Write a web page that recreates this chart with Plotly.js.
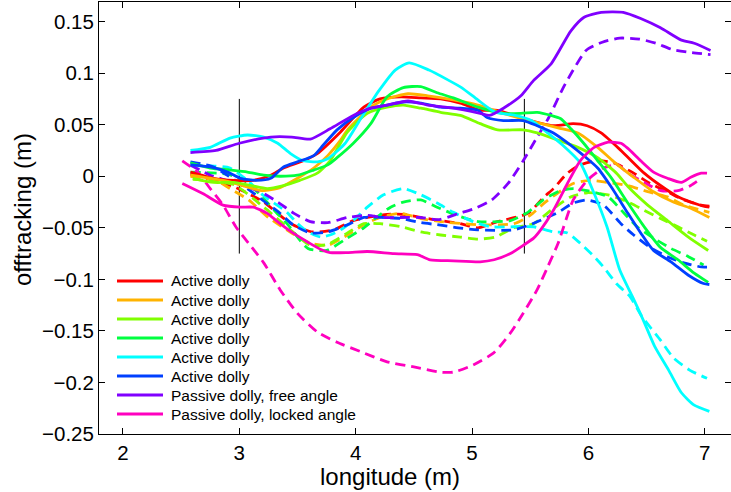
<!DOCTYPE html>
<html>
<head>
<meta charset="utf-8">
<script src="https://cdn.plot.ly/plotly-3.0.1.min.js"></script>
<style>html,body{margin:0;padding:0;background:#fff;}#chart{width:731px;height:492px;}</style>
</head>
<body>
<div id="chart"></div>
<script>
// ---- data (longitude in m, offtracking in m) ----
const seriesNames = ["Active dolly","Active dolly","Active dolly","Active dolly","Active dolly","Active dolly","Passive dolly, free angle","Passive dolly, locked angle"];
const seriesColors = ["#ff0000","#ffb300","#80ff00","#00ff40","#00ffff","#0040ff","#8000ff","#ff00bf"];
const xTitle = "longitude (m)";
const yTitle = "offtracking (m)";

const red_solid_x = [2.58,2.78,2.95,3.12,3.27,3.38,3.55,3.67,3.87,4.07,4.21,4.39,4.56,4.73,4.90,5.07,5.22,5.44,5.70,5.87,5.99,6.11,6.28,6.48,6.62,6.77,6.88,6.99,7.04];
const red_solid_y = [0.004,-0.002,-0.004,-0.004,0.001,0.008,0.015,0.022,0.043,0.067,0.075,0.077,0.076,0.075,0.071,0.064,0.064,0.056,0.049,0.051,0.049,0.042,0.025,0.003,-0.009,-0.020,-0.025,-0.029,-0.030];
const red_dash_x = [2.58,2.78,2.95,3.21,3.35,3.46,3.63,3.81,3.98,4.10,4.27,4.41,4.56,4.73,4.90,5.05,5.22,5.48,5.62,5.70,5.82,5.93,6.08,6.22,6.39,6.53,6.68,6.82,6.97,7.04];
const red_dash_y = [0.002,-0.004,-0.010,-0.025,-0.038,-0.047,-0.054,-0.052,-0.043,-0.040,-0.037,-0.037,-0.040,-0.043,-0.046,-0.050,-0.044,-0.036,-0.020,-0.012,0.003,0.011,0.015,0.013,0.003,-0.007,-0.015,-0.023,-0.028,-0.029];

const orange_solid_x = [2.58,2.90,3.12,3.20,3.35,3.50,3.64,3.76,3.87,3.93,4.13,4.27,4.45,4.62,4.84,5.05,5.27,5.56,5.74,5.91,6.08,6.22,6.39,6.56,6.73,6.88,7.04];
const orange_solid_y = [0.001,-0.005,-0.012,-0.014,-0.011,-0.002,0.008,0.020,0.035,0.045,0.067,0.075,0.080,0.078,0.074,0.069,0.061,0.052,0.047,0.042,0.028,0.014,-0.001,-0.015,-0.025,-0.031,-0.040];
const orange_dash_x = [2.58,2.80,2.92,3.08,3.25,3.45,3.61,3.76,3.93,4.07,4.21,4.39,4.56,4.73,5.05,5.36,5.50,5.62,5.74,5.87,6.02,6.17,6.34,6.51,6.68,6.82,6.97,7.04];
const orange_dash_y = [0.000,-0.004,-0.012,-0.023,-0.040,-0.055,-0.065,-0.067,-0.057,-0.047,-0.040,-0.036,-0.041,-0.044,-0.047,-0.046,-0.038,-0.026,-0.016,-0.007,-0.004,-0.006,-0.009,-0.015,-0.020,-0.028,-0.033,-0.035];

const lime_solid_x = [2.60,2.78,2.95,3.10,3.24,3.38,3.52,3.67,3.78,3.93,4.10,4.27,4.41,4.56,4.73,4.90,5.07,5.22,5.44,5.56,5.74,5.91,6.08,6.17,6.25,6.34,6.51,6.68,6.86,7.03];
const lime_solid_y = [-0.002,-0.006,-0.006,-0.009,-0.012,-0.009,-0.004,0.003,0.015,0.043,0.061,0.067,0.069,0.066,0.062,0.059,0.051,0.045,0.045,0.042,0.035,0.028,0.018,0.010,0.002,-0.010,-0.028,-0.043,-0.059,-0.072];
const lime_dash_x = [2.60,2.95,3.21,3.46,3.61,3.76,3.93,4.07,4.21,4.39,4.56,4.73,4.90,5.05,5.20,5.36,5.53,5.68,5.85,5.99,6.17,6.34,6.48,6.62,6.77,6.91,7.02];
const lime_dash_y = [-0.003,-0.008,-0.030,-0.054,-0.067,-0.066,-0.055,-0.046,-0.046,-0.049,-0.054,-0.057,-0.059,-0.061,-0.059,-0.050,-0.046,-0.033,-0.020,-0.016,-0.018,-0.025,-0.033,-0.041,-0.049,-0.057,-0.063];

const green_solid_x = [2.58,2.75,2.92,3.07,3.21,3.35,3.50,3.64,3.76,3.84,3.98,4.13,4.27,4.41,4.56,4.70,4.84,5.05,5.27,5.42,5.56,5.68,5.76,5.85,5.96,6.08,6.20,6.34,6.48,6.62,6.77,6.91,7.03];
const green_solid_y = [0.013,0.008,0.006,0.004,0.001,0.000,0.001,0.006,0.011,0.018,0.032,0.051,0.077,0.086,0.087,0.081,0.076,0.067,0.061,0.061,0.062,0.059,0.056,0.046,0.032,0.015,-0.002,-0.026,-0.049,-0.069,-0.081,-0.094,-0.103];
const green_dash_x = [2.58,2.90,3.05,3.18,3.30,3.41,3.59,3.75,3.90,4.07,4.18,4.30,4.41,4.56,4.70,4.87,5.05,5.33,5.48,5.61,5.76,5.87,5.99,6.17,6.30,6.42,6.56,6.71,6.86,6.99];
const green_dash_y = [0.004,0.002,-0.005,-0.018,-0.033,-0.046,-0.070,-0.072,-0.062,-0.050,-0.040,-0.030,-0.025,-0.023,-0.030,-0.038,-0.044,-0.043,-0.035,-0.023,-0.014,-0.012,-0.014,-0.020,-0.035,-0.049,-0.060,-0.070,-0.078,-0.086];

const cyan_solid_x = [2.58,2.75,2.92,3.07,3.21,3.33,3.44,3.55,3.67,3.76,3.91,4.05,4.20,4.34,4.46,4.63,4.80,4.91,5.05,5.20,5.37,5.51,5.65,5.78,5.93,6.04,6.16,6.27,6.38,6.47,6.57,6.69,6.80,6.91,7.04];
const cyan_solid_y = [0.025,0.028,0.037,0.040,0.038,0.032,0.022,0.015,0.014,0.017,0.032,0.057,0.083,0.103,0.110,0.103,0.093,0.086,0.074,0.062,0.059,0.054,0.042,0.030,0.013,-0.014,-0.049,-0.091,-0.117,-0.139,-0.165,-0.188,-0.210,-0.222,-0.228];
const cyan_dash_x = [2.58,2.75,2.92,3.07,3.20,3.41,3.50,3.59,3.70,3.78,3.87,3.98,4.10,4.24,4.41,4.56,4.70,4.84,5.01,5.16,5.36,5.53,5.70,5.82,5.93,6.05,6.13,6.24,6.36,6.46,6.62,6.73,6.87,7.02];
const cyan_dash_y = [0.010,0.010,0.008,-0.004,-0.018,-0.035,-0.046,-0.054,-0.059,-0.057,-0.052,-0.043,-0.030,-0.018,-0.012,-0.018,-0.026,-0.035,-0.044,-0.049,-0.049,-0.049,-0.054,-0.055,-0.065,-0.078,-0.088,-0.104,-0.117,-0.136,-0.159,-0.176,-0.188,-0.196];

const blue_solid_x = [2.58,2.75,2.90,3.01,3.15,3.27,3.38,3.50,3.64,3.72,3.84,3.98,4.13,4.27,4.41,4.56,4.73,4.90,5.05,5.13,5.27,5.44,5.56,5.70,5.85,5.96,6.08,6.20,6.34,6.45,6.56,6.71,6.86,6.99,7.04];
const blue_solid_y = [0.011,0.009,0.004,-0.002,-0.004,-0.002,0.009,0.014,0.020,0.030,0.045,0.057,0.066,0.069,0.072,0.071,0.067,0.066,0.064,0.057,0.054,0.054,0.049,0.042,0.030,0.020,0.008,-0.011,-0.036,-0.055,-0.072,-0.083,-0.096,-0.104,-0.105];
const blue_dash_x = [2.58,2.78,2.91,3.07,3.21,3.35,3.46,3.61,3.76,3.93,4.07,4.24,4.39,4.56,4.70,4.88,5.05,5.36,5.50,5.74,5.87,5.99,6.13,6.28,6.39,6.53,6.68,6.82,6.97,7.04];
const blue_dash_y = [0.014,0.009,0.000,-0.012,-0.024,-0.036,-0.047,-0.055,-0.054,-0.047,-0.040,-0.040,-0.041,-0.045,-0.047,-0.050,-0.052,-0.052,-0.047,-0.035,-0.026,-0.023,-0.028,-0.046,-0.057,-0.069,-0.078,-0.084,-0.088,-0.088];

const purple_solid_x = [2.58,2.80,3.00,3.27,3.45,3.61,3.78,3.98,4.13,4.27,4.45,4.62,4.84,5.07,5.15,5.27,5.42,5.53,5.68,5.85,5.96,6.11,6.30,6.45,6.62,6.80,6.91,7.05];
const purple_solid_y = [0.023,0.025,0.032,0.038,0.038,0.036,0.046,0.059,0.066,0.069,0.073,0.069,0.066,0.061,0.059,0.066,0.078,0.093,0.109,0.141,0.154,0.159,0.159,0.153,0.144,0.132,0.129,0.122];
const purple_dash_x = [2.58,2.75,2.95,3.18,3.33,3.47,3.61,3.76,3.93,4.10,4.24,4.38,4.55,4.72,4.89,5.03,5.17,5.31,5.44,5.56,5.66,5.78,5.87,5.98,6.12,6.27,6.44,6.58,6.72,6.89,7.05];
const purple_dash_y = [0.011,0.001,-0.006,-0.015,-0.025,-0.036,-0.044,-0.045,-0.040,-0.038,-0.040,-0.040,-0.040,-0.042,-0.036,-0.031,-0.023,-0.007,0.015,0.038,0.057,0.085,0.103,0.122,0.130,0.134,0.133,0.129,0.123,0.120,0.118];

const magenta_solid_x = [2.51,2.69,2.86,3.01,3.12,3.24,3.35,3.46,3.59,3.70,3.78,3.93,4.10,4.33,4.53,4.64,4.84,5.07,5.19,5.33,5.44,5.53,5.59,5.70,5.82,5.93,6.05,6.17,6.28,6.34,6.45,6.56,6.68,6.80,6.88,6.97,7.02];
const magenta_solid_y = [-0.007,-0.017,-0.028,-0.030,-0.030,-0.036,-0.046,-0.055,-0.064,-0.071,-0.074,-0.074,-0.073,-0.075,-0.076,-0.081,-0.082,-0.083,-0.081,-0.075,-0.067,-0.060,-0.052,-0.033,-0.007,0.015,0.028,0.033,0.032,0.027,0.015,0.004,-0.002,-0.006,-0.001,0.003,0.003];
const magenta_dash_x = [2.51,2.64,2.75,2.86,2.97,3.08,3.21,3.35,3.50,3.67,3.84,4.04,4.27,4.50,4.73,4.84,5.01,5.19,5.33,5.44,5.56,5.65,5.74,5.87,5.99,6.13,6.25,6.34,6.48,6.62,6.77,6.88,6.97];
const magenta_dash_y = [0.015,0.004,-0.012,-0.028,-0.049,-0.065,-0.084,-0.110,-0.133,-0.151,-0.161,-0.170,-0.180,-0.185,-0.190,-0.190,-0.183,-0.171,-0.152,-0.133,-0.110,-0.088,-0.065,-0.023,-0.004,0.008,0.011,0.003,-0.006,-0.014,-0.014,-0.009,-0.002];

// vertical marker lines (longitude positions and their extent)
const markerX = [3.0, 5.45];
const markerYRange = [-0.075, 0.075];

const xTicks = [2,3,4,5,6,7];
const yTicks = [-0.25,-0.2,-0.15,-0.1,-0.05,0,0.05,0.1,0.15];

// ---- build traces ----
const solids = [[red_solid_x,red_solid_y],[orange_solid_x,orange_solid_y],[lime_solid_x,lime_solid_y],[green_solid_x,green_solid_y],[cyan_solid_x,cyan_solid_y],[blue_solid_x,blue_solid_y],[purple_solid_x,purple_solid_y],[magenta_solid_x,magenta_solid_y]];
const dashes = [[red_dash_x,red_dash_y],[orange_dash_x,orange_dash_y],[lime_dash_x,lime_dash_y],[green_dash_x,green_dash_y],[cyan_dash_x,cyan_dash_y],[blue_dash_x,blue_dash_y],[purple_dash_x,purple_dash_y],[magenta_dash_x,magenta_dash_y]];

const LW = 2.8;
const traces = [];
markerX.forEach(function(mx){
  traces.push({x:[mx,mx], y:markerYRange, mode:'lines', line:{color:'#000', width:1}, showlegend:false, hoverinfo:'skip'});
});
dashes.forEach(function(d,i){
  traces.push({x:d[0], y:d[1], mode:'lines', line:{color:seriesColors[i], width:LW, dash:'10px,6px', shape:'spline', smoothing:0.6}, showlegend:false});
});
solids.forEach(function(d,i){
  traces.push({x:d[0], y:d[1], mode:'lines', name:seriesNames[i], line:{color:seriesColors[i], width:LW, shape:'spline', smoothing:0.6}, showlegend:false});
});

// ---- layout geometry (pixels) ----
const W = 731, H = 492, ML = 99, MR = 0, MT = 2, MB = 58;
const PW = W - ML - MR, PH = H - MT - MB;
function px2x(p){ return (p - ML) / PW; }
function py2y(p){ return (H - MB - p) / PH; }

const FONT = 'Liberation Sans, Arial, Helvetica, sans-serif';

// legend drawn as paper-referenced decoration
const legTop = 281, legStep = 19, legLine0 = 117, legLine1 = 163, legText = 169;
const shapes = [], annotations = [];
seriesNames.forEach(function(nm,i){
  const yy = py2y(legTop + legStep*i);
  shapes.push({type:'line', xref:'paper', yref:'paper', x0:px2x(legLine0), x1:px2x(legLine1), y0:yy, y1:yy,
               line:{color:seriesColors[i], width:LW}});
  annotations.push({xref:'paper', yref:'paper', x:px2x(legText), y:yy, xanchor:'left', yanchor:'middle',
                    text:nm, showarrow:false, font:{family:FONT, size:15.5, color:'#000'}});
});
// axis titles
annotations.push({xref:'paper', yref:'paper', x:px2x(390), y:py2y(476), xanchor:'center', yanchor:'middle',
                  text:xTitle, showarrow:false, font:{family:FONT, size:24, color:'#000'}});
annotations.push({xref:'paper', yref:'paper', x:px2x(22), y:py2y(210), xanchor:'center', yanchor:'middle', textangle:-90,
                  text:yTitle, showarrow:false, font:{family:FONT, size:24, color:'#000'}});

const layout = {
  width:W, height:H,
  margin:{l:ML, r:MR, t:MT, b:MB, pad:0},
  paper_bgcolor:'#fff', plot_bgcolor:'#fff',
  font:{family:FONT, color:'#000'},
  showlegend:false,
  shapes:shapes, annotations:annotations,
  xaxis:{range:[1.794,7.226], tickvals:xTicks, ticktext:xTicks.map(String), ticks:'inside', ticklen:6, tickcolor:'#000', tickwidth:1,
         showline:true, linecolor:'#000', linewidth:1, mirror:'ticks', showgrid:false, zeroline:false,
         tickfont:{family:FONT, size:20.5, color:'#000'}},
  yaxis:{range:[-0.25,0.169], tickvals:yTicks, ticktext:yTicks.map(function(v){return v<0?'\u2212'+String(-v):String(v);}), ticks:'inside', ticklen:6, tickcolor:'#000', tickwidth:1,
         showline:true, linecolor:'#000', linewidth:1, mirror:'ticks', showgrid:false, zeroline:false,
         tickfont:{family:FONT, size:20.5, color:'#000'}}
};
Plotly.newPlot('chart', traces, layout, {displayModeBar:false, staticPlot:true});
</script>
</body>
</html>
